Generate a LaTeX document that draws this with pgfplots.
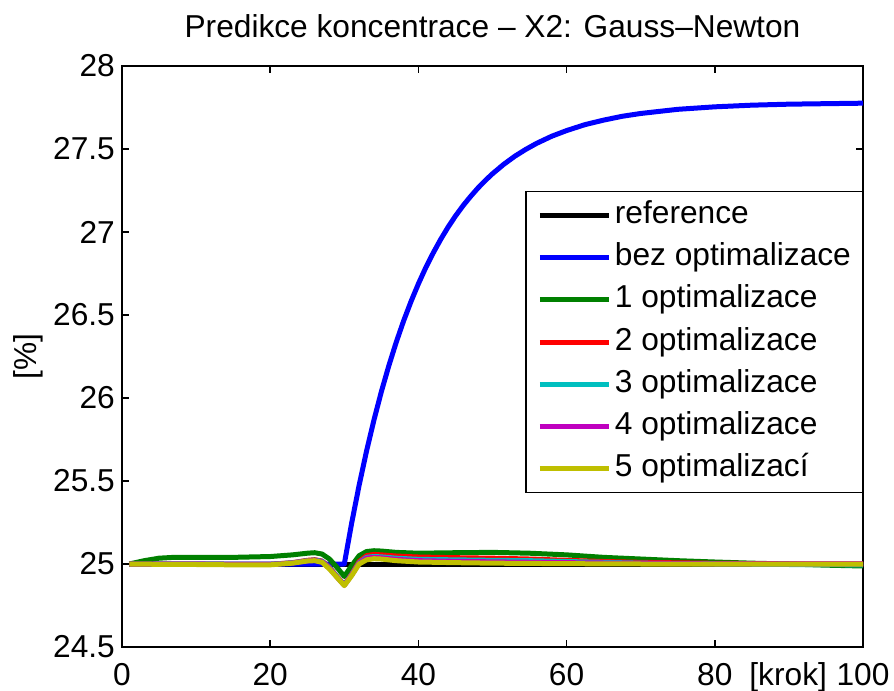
\documentclass[border=0pt]{standalone}
\usepackage{fontspec}
\setmainfont{Liberation Sans}
\usepackage{pgfplots}
\pgfplotsset{compat=1.18}

% MATLAB default line colours
\definecolor{mgreen}{rgb}{0,0.5,0}
\definecolor{mcyan}{rgb}{0,0.75,0.75}
\definecolor{mmagenta}{rgb}{0.75,0,0.75}
\definecolor{myellow}{rgb}{0.75,0.75,0}

\newcommand{\chartfont}{\fontsize{31.8}{36}\selectfont}

\begin{document}
\begin{tikzpicture}
\begin{axis}[
  scale only axis,
  width=741bp, height=581bp,
  xmin=0, xmax=100, ymin=24.5, ymax=28,
  xtick={0,20,40,60,80,100},
  ytick={24.5,25,25.5,26,26.5,27,27.5,28},
  yticklabels={24.5,25,25.5,26,26.5,27,27.5,28},
  /pgf/number format/assume math mode=true,
  tick align=inside,
  major tick length=7bp,
  axis line style={line width=1.5bp},
  every tick/.style={black, line width=1.5bp},
  font=\chartfont,
  tick label style={font=\chartfont},
  xticklabel style={anchor=base, inner sep=0pt, yshift=-38bp},
  yticklabel style={anchor=east, inner sep=0pt, xshift=-7bp},
  title={Predikce koncentrace – X2: Gauss–Newton},
  title style={at={(rel axis cs:0.5,1)}, anchor=base, inner sep=0pt, yshift=23bp, font=\chartfont},
  xlabel={[krok]},
  xlabel style={at={(rel axis cs:0.899,0)}, anchor=base, inner sep=0pt, yshift=-38bp, font=\chartfont},
  ylabel={[\%]},
  ylabel style={at={(rel axis cs:-0.1269,0.5)}, anchor=center, inner sep=0pt, font=\chartfont},
  legend cell align=left,
  legend image code/.code={\draw[#1] (0bp,0bp) -- (69bp,0bp);},
  legend style={
    at={(rel axis cs:1,0.7849)}, anchor=north east,
    draw=black, line width=1.2bp, fill=white,
    inner xsep=11.5bp, inner ysep=9bp,
    row sep=12.2bp, column sep=3.5bp,
    nodes={inner sep=0pt, text height=23bp, text depth=7bp, font=\chartfont},
  },
  every axis plot/.append style={line width=5bp, line join=round},
]

% reference
\addplot[black] coordinates {(1,25) (100,25)};
\addlegendentry{reference}

% bez optimalizace
\addplot[blue] coordinates {
  (1,25) (10,25) (20,25) (25,25) (29,25) (30,25.0)
  (31,25.248) (32,25.474) (33,25.680) (34,25.867) (35,26.038)
  (36,26.193) (37,26.335) (38,26.464) (39,26.581) (40,26.688)
  (41,26.786) (42,26.874) (43,26.955) (44,27.029) (45,27.096)
  (46,27.157) (47,27.212) (48,27.263) (49,27.309) (50,27.351)
  (51.5,27.407) (53,27.456) (54.5,27.498) (56,27.535) (58,27.577)
  (60,27.611) (62.5,27.647) (65,27.674) (67.5,27.697) (70,27.714)
  (75,27.739) (80,27.754) (85,27.764) (90,27.770) (95,27.773) (100,27.776)
};
\addlegendentry{bez optimalizace}

% 1 optimalizace
\addplot[mgreen] coordinates {
  (1,25.0) (3,25.02) (5,25.035) (7,25.04) (10,25.04) (15,25.04)
  (20,25.045) (23,25.055) (25,25.065) (26,25.068) (27,25.06)
  (28,25.03) (29,24.98) (30,24.925) (31,24.99) (32,25.05)
  (33,25.075) (34,25.08) (35,25.078) (37,25.07) (40,25.065)
  (45,25.068) (50,25.07) (55,25.065) (60,25.055) (65,25.04)
  (70,25.03) (75,25.02) (80,25.012) (85,25.005) (90,25.0)
  (95,24.993) (100,24.988)
};
\addlegendentry{1 optimalizace}

% 2 optimalizace
\addplot[red] coordinates {
  (1,25.0) (5,25.0) (10,25.0) (15,24.998) (20,24.998) (23,25.008)
  (25,25.022) (26,25.026) (27,25.018) (28,24.98) (29,24.925)
  (30,24.875) (31,24.94) (32,25.015) (33,25.05) (34,25.058)
  (35,25.055) (37,25.048) (40,25.042) (45,25.038) (50,25.035)
  (55,25.03) (60,25.022) (65,25.015) (70,25.01) (80,25.004)
  (90,25.001) (100,25.0)
};
\addlegendentry{2 optimalizace}

% 3 optimalizace
\addplot[mcyan] coordinates {
  (1,25.0) (5,25.0) (10,25.0) (15,24.998) (20,24.998) (23,25.007)
  (25,25.02) (26,25.024) (27,25.016) (28,24.978) (29,24.924)
  (30,24.874) (31,24.937) (32,25.008) (33,25.04) (34,25.045)
  (35,25.043) (37,25.035) (40,25.028) (45,25.025) (50,25.022)
  (55,25.02) (60,25.015) (65,25.01) (70,25.005) (80,25.0)
  (90,24.997) (100,24.995)
};
\addlegendentry{3 optimalizace}

% 4 optimalizace
\addplot[mmagenta] coordinates {
  (1,25.0) (5,25.0) (10,24.999) (15,24.997) (20,24.997) (23,25.006)
  (25,25.019) (26,25.022) (27,25.013) (28,24.975) (29,24.922)
  (30,24.872) (31,24.934) (32,25.004) (33,25.035) (34,25.04)
  (35,25.037) (37,25.028) (40,25.02) (45,25.016) (50,25.013)
  (60,25.008) (70,25.004) (80,25.001) (100,25.0)
};
\addlegendentry{4 optimalizace}

% 5 optimalizací
\addplot[myellow] coordinates {
  (1,25.0) (5,24.998) (10,24.997) (15,24.995) (20,24.995) (23,25.005)
  (25,25.018) (26,25.02) (27,25.01) (28,24.97) (29,24.92)
  (30,24.87) (31,24.93) (32,25.0) (33,25.025) (34,25.032)
  (35,25.03) (37,25.02) (40,25.012) (45,25.008) (50,25.005)
  (60,25.002) (70,25.0) (100,25.0)
};
\addlegendentry{5 optimalizací}

\end{axis}
\pgfresetboundingbox
\path[use as bounding box]
  ([xshift=-122bp,yshift=-44bp]current axis.south west)
  rectangle ([xshift=31bp,yshift=66bp]current axis.north east);
\end{tikzpicture}
\end{document}
